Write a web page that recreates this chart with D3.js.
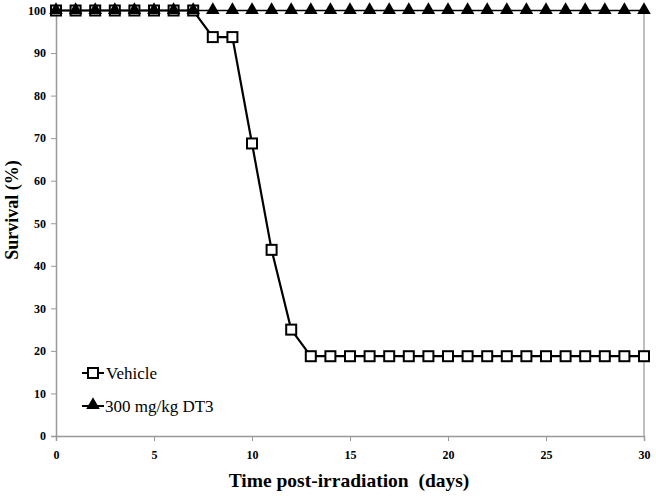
<!DOCTYPE html>
<html><head><meta charset="utf-8">
<script src="https://cdn.jsdelivr.net/npm/d3@7"></script>
<style>body{margin:0;background:#fff}svg{display:block}</style>
</head><body><svg id="c" width="656" height="496" font-family="Liberation Serif"></svg>
<script>
const days = d3.range(0, 31);
const vehicle = [100,100,100,100,100,100,100,100,93.75,93.75,68.75,43.75,25,18.75,18.75,18.75,18.75,18.75,18.75,18.75,18.75,18.75,18.75,18.75,18.75,18.75,18.75,18.75,18.75,18.75,18.75];
const dt3 = [100,100,100,100,100,100,100,100,100,100,100,100,100,100,100,100,100,100,100,100,100,100,100,100,100,100,100,100,100,100,100];
const xTicks = [0,5,10,15,20,25,30];
const yTicks = [0,10,20,30,40,50,60,70,80,90,100];
const seriesNames = ["Vehicle","300 mg/kg DT3"];

const svg = d3.select("#c");
const x = d3.scaleLinear().domain([0,30]).range([56,644]);
const y = d3.scaleLinear().domain([0,100]).range([436,10.5]);

const gx = svg.append("g").attr("transform","translate(0,436)")
  .call(d3.axisBottom(x).tickValues(xTicks).tickSize(5).tickPadding(9));
const gy = svg.append("g").attr("transform","translate(56,0)")
  .call(d3.axisLeft(y).tickValues(yTicks).tickSize(5).tickPadding(5));
[gx,gy].forEach(g=>{
  g.attr("font-family","Liberation Serif").attr("font-size",12).attr("font-weight","bold");
  g.select(".domain").attr("stroke","#999").attr("stroke-width",1.5);
  g.selectAll(".tick line").attr("stroke","#999");
  g.selectAll("text").attr("fill","#000");
});
svg.append("line").attr("x1",x(30)).attr("x2",x(30)).attr("y1",y(100)).attr("y2",y(0))
  .attr("stroke","#aaa").attr("stroke-width",1.5);

const line = d3.line().x((d,i)=>x(days[i])).y(d=>y(d));
svg.append("path").datum(vehicle).attr("d",line).attr("fill","none").attr("stroke","#000").attr("stroke-width",2.2);
svg.append("path").datum(dt3).attr("d",line).attr("fill","none").attr("stroke","#000").attr("stroke-width",1.5);

const sq = 10;
svg.append("g").selectAll("rect").data(vehicle).join("rect")
  .attr("x",(d,i)=>x(days[i])-sq/2).attr("y",d=>y(d)-sq/2).attr("width",sq).attr("height",sq)
  .attr("fill","#fff").attr("stroke","#000").attr("stroke-width",2);
const tri = d3.symbol().type(d3.symbolTriangle).size(80);
svg.append("g").selectAll("path").data(dt3).join("path")
  .attr("d",tri).attr("transform",(d,i)=>`translate(${x(days[i])},${y(d)-0.5})`).attr("fill","#000");

const lg = svg.append("g").attr("font-family","Liberation Serif").attr("font-size",17);
lg.append("line").attr("x1",82).attr("x2",104).attr("y1",373).attr("y2",373).attr("stroke","#000").attr("stroke-width",2);
lg.append("rect").attr("x",88).attr("y",368).attr("width",10).attr("height",10).attr("fill","#fff").attr("stroke","#000").attr("stroke-width",2);
lg.append("text").attr("x",106).attr("y",379).text(seriesNames[0]);
lg.append("line").attr("x1",82).attr("x2",104).attr("y1",406).attr("y2",406).attr("stroke","#000").attr("stroke-width",2);
lg.append("path").attr("d",tri).attr("transform","translate(93,405)").attr("fill","#000");
lg.append("text").attr("x",105).attr("y",412).text(seriesNames[1]);

svg.append("text").attr("x",349).attr("y",487).attr("text-anchor","middle")
  .attr("font-family","Liberation Serif").attr("font-weight","bold").attr("font-size",19.5).attr("xml:space","preserve")
  .text("Time post-irradiation  (days)");
svg.append("text").attr("transform","translate(18,210) rotate(-90)").attr("text-anchor","middle")
  .attr("font-family","Liberation Serif").attr("font-weight","bold").attr("font-size",18)
  .text("Survival (%)");
</script></body></html>
